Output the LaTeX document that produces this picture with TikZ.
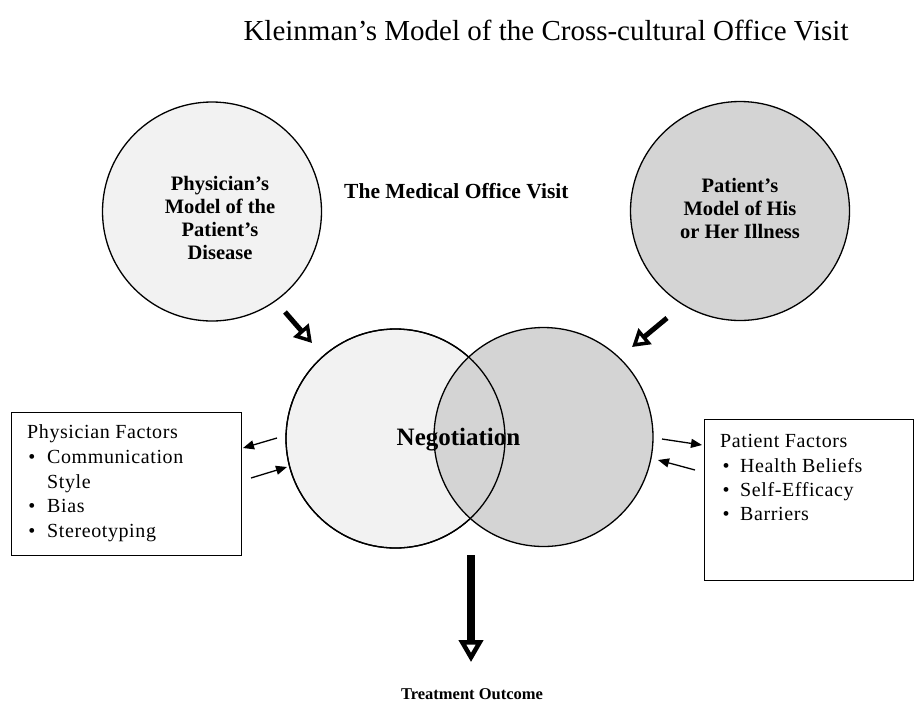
\documentclass[tikz,border=0pt]{standalone}
\usepackage{fontspec}
\setmainfont{Liberation Serif}
\newfontfamily\boxfont[LetterSpace=3]{Liberation Serif}
\usetikzlibrary{arrows.meta}
\definecolor{physfill}{gray}{0.95}
\definecolor{patfill}{gray}{0.83}

\begin{document}
\begin{tikzpicture}[x=1pt,y=-1pt,
  model/.style={circle, draw, line width=1.3pt, minimum size=219pt, inner sep=0pt},
  modeltext/.style={align=center, inner sep=0pt,
    font=\fontsize{20.5}{23}\selectfont\bfseries},
  factbox/.style={draw, line width=1.3pt, anchor=north west, inner sep=0pt},
  boxtext/.style={anchor=base west, inner sep=0pt,
    font=\boxfont\fontsize{20}{24}\selectfont},
  bullet/.style={anchor=base, inner sep=0pt, font=\fontsize{20}{24}\selectfont},
  bigarrow/.style={line width=5pt,
    -{Triangle[open, length=17pt, width=20pt, line width=3.5pt]}},
  outarrow/.style={line width=8pt,
    -{Triangle[open, length=22pt, width=24pt, line width=4.5pt]}},
  smallarrow/.style={line width=1.3pt, -{Triangle[length=11pt, width=9pt]}}
]
\useasboundingbox (0,0) rectangle (917,702);

% title
\node[anchor=base, inner sep=0pt, font=\fontsize{29}{34}\selectfont]
  (title) at (546,40) {Kleinman’s Model of the Cross-cultural Office Visit};

% the two models
\node[model, fill=physfill] (physician) at (212,211.5) {};
\node[model, fill=patfill] (patient) at (740,211) {};
\node[modeltext] (physlabel) at (220,217.5)
  {Physician’s\\Model of the\\Patient’s\\Disease};
\node[modeltext] (patlabel) at (740,208)
  {Patient’s\\Model of His\\or Her Illness};

\node[anchor=base west, inner sep=0pt, font=\fontsize{21.5}{26}\selectfont\bfseries]
  (visit) at (344,198) {The Medical Office Visit};

% negotiation circles
\node[model, fill=physfill] (negL) at (395.5,438.5) {};
\node[model, fill=patfill] (negR) at (543.5,437) {};
\draw[line width=1.3pt] (negL.center) circle[radius=109.5];
\node[anchor=base, inner sep=0pt, font=\fontsize{25}{30}\selectfont\bfseries]
  (negotiation) at (458.5,445) {Negotiation};

% models feeding the negotiation
\coordinate (physA) at (285,312);
\coordinate (physB) at (312,343);
\coordinate (patA) at (667,318);
\coordinate (patB) at (632,347);
\draw[bigarrow] (physA) -- (physB);
\draw[bigarrow] (patA) -- (patB);

% physician factors
\node[factbox, minimum width=230pt, minimum height=143pt] (pfbox) at (11,412) {};
\node[boxtext] (pf0) at (27,438) {Physician Factors};
\node[bullet] (pb1) at (32,463) {\textbullet};
\node[boxtext] (pf1) at (47,463) {Communication};
\node[boxtext] (pf1b) at (47,488) {Style};
\node[bullet] (pb2) at (32,512) {\textbullet};
\node[boxtext] (pf2) at (47,512) {Bias};
\node[bullet] (pb3) at (32,537) {\textbullet};
\node[boxtext] (pf3) at (47,537) {Stereotyping};

% patient factors
\node[factbox, minimum width=209pt, minimum height=161pt] (ptbox) at (704,419) {};
\node[boxtext] (pt0) at (720,447) {Patient Factors};
\node[bullet] (qb1) at (726,472) {\textbullet};
\node[boxtext] (pt1) at (740,472) {Health Beliefs};
\node[bullet] (qb2) at (726,496) {\textbullet};
\node[boxtext] (pt2) at (740,496) {Self-Efficacy};
\node[bullet] (qb3) at (726,520) {\textbullet};
\node[boxtext] (pt3) at (740,520) {Barriers};

% exchanges between factors and negotiation
\coordinate (l1a) at (277,438);
\coordinate (l1b) at (243,448);
\coordinate (l2a) at (251,478);
\coordinate (l2b) at (287,467);
\draw[smallarrow] (l1a) -- (l1b);
\draw[smallarrow] (l2a) -- (l2b);
\coordinate (r1a) at (662,439);
\coordinate (r1b) at (702,445);
\coordinate (r2a) at (695,470);
\coordinate (r2b) at (658,460);
\draw[smallarrow] (r1a) -- (r1b);
\draw[smallarrow] (r2a) -- (r2b);

% outcome
\node[anchor=base, inner sep=0pt, font=\fontsize{16.5}{20}\selectfont\bfseries]
  (outcome) at (472,699) {Treatment Outcome};
\coordinate (outA) at (471,555);
\coordinate (outB) at (471,662);
\draw[outarrow] (outA) -- (outB);
\end{tikzpicture}
\end{document}
